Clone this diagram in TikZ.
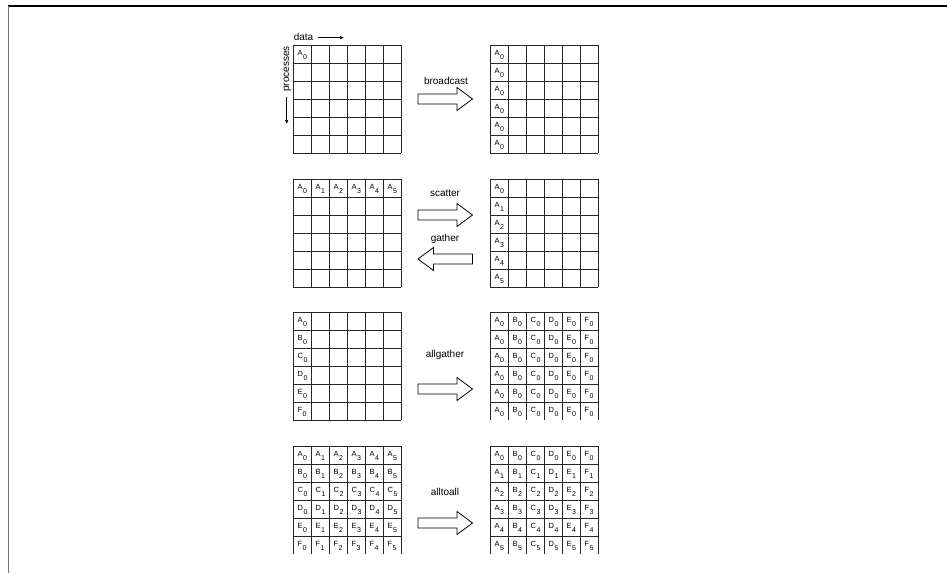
\documentclass[tikz,border=0pt]{standalone}
\usepackage{fontspec}
\setmainfont{Liberation Sans}
\usetikzlibrary{arrows.meta}
\tikzset{
  gridline/.style={line width=0.8pt, black!85},
  cellA/.style={anchor=base west, inner sep=0pt, font=\fontsize{7.5}{7.5}\selectfont},
  oplabel/.style={font=\fontsize{10}{10}\selectfont, inner sep=0pt},
  blockarrow/.style={draw=black, line width=0.8pt, fill=white, line join=miter},
  smallarrow/.style={line width=0.8pt, -{Latex[length=4pt,width=3.5pt]}},
}
% grid: x, y, last horizontal index (6 = closed, 5 = open bottom)
\newcommand{\mgrid}[3]{%
  \foreach \i in {0,...,#3} \draw[gridline] (#1,#2+18*\i) -- (#1+108,#2+18*\i);
  \foreach \j in {0,...,6} \draw[gridline] (#1+18*\j,#2) -- (#1+18*\j,#2+108);
}
% cell label: name, grid x, grid y, col, row, letter, subscript
\newcommand{\mcell}[7]{%
  \node[cellA] (#1) at (#2+18*#4+4.5, #3+18*#5+10.5) {#6\kern0.4pt\raisebox{-4pt}{\fontsize{7}{7}\selectfont #7}};
}
\newcommand{\rarrow}[2]{%
  \draw[blockarrow] (#1,#2-5) -- (#1+39,#2-5) -- (#1+39,#2-11.5) -- (#1+54.5,#2)
    -- (#1+39,#2+11.5) -- (#1+39,#2+5) -- (#1,#2+5) -- cycle;
}
\newcommand{\larrow}[2]{%
  \draw[blockarrow] (#1+54.5,#2-5) -- (#1+15.5,#2-5) -- (#1+15.5,#2-11.5) -- (#1,#2)
    -- (#1+15.5,#2+11.5) -- (#1+15.5,#2+5) -- (#1+54.5,#2+5) -- cycle;
}
\begin{document}
\begin{tikzpicture}[x=1pt,y=-1pt]
\useasboundingbox (0,0) rectangle (947,573);
% frame
\draw[line width=1.2pt, black] (8,6) -- (947,6);
\draw[line width=1.5pt, black!55] (8.5,6) -- (8.5,573);

% ---------- broadcast ----------
\node[oplabel] (datalbl) at (303.5,37) {data};
\coordinate (dataS) at (318,37.7);
\coordinate (dataE) at (344,37.7);
\draw[smallarrow] (dataS) -- (dataE);
\node[oplabel, rotate=90] (proclbl) at (287.5,69) {processes};
\coordinate (procS) at (286.7,97);
\coordinate (procE) at (286.7,124);
\draw[smallarrow] (procS) -- (procE);

\mgrid{293}{45}{6}
\mcell{b1}{293}{45}{0}{0}{A}{0}
\node[oplabel] (bcast) at (446,81) {broadcast};
\rarrow{418}{99}
\mgrid{490}{45}{6}
\foreach \r in {0,...,5} {\mcell{br\r}{490}{45}{0}{\r}{A}{0}}

% ---------- scatter / gather ----------
\mgrid{293}{179}{6}
\foreach \c in {0,...,5} {\mcell{sl\c}{293}{179}{\c}{0}{A}{\c}}
\node[oplabel] (scat) at (445,193) {scatter};
\rarrow{418}{215}
\node[oplabel] (gath) at (445,238.5) {gather};
\larrow{418}{259}
\mgrid{490}{179}{6}
\foreach \r in {0,...,5} {\mcell{sr\r}{490}{179}{0}{\r}{A}{\r}}

% ---------- allgather ----------
\mgrid{293}{312}{6}
\foreach \L [count=\r from 0] in {A,B,C,D,E,F} {\mcell{al\r}{293}{312}{0}{\r}{\L}{0}}
\node[oplabel] (allg) at (445,355) {allgather};
\rarrow{418}{389}
\mgrid{490}{312}{5}
\foreach \r in {0,...,5} {
  \foreach \L [count=\c from 0] in {A,B,C,D,E,F} {\mcell{ar\r\c}{490}{312}{\c}{\r}{\L}{0}}
}

% ---------- alltoall ----------
\mgrid{293}{446}{5}
\foreach \L [count=\r from 0] in {A,B,C,D,E,F} {
  \foreach \c in {0,...,5} {\mcell{tl\r\c}{293}{446}{\c}{\r}{\L}{\c}}
}
\node[oplabel] (a2a) at (445,492) {alltoall};
\rarrow{418}{523}
\mgrid{490}{446}{5}
\foreach \r in {0,...,5} {
  \foreach \L [count=\c from 0] in {A,B,C,D,E,F} {\mcell{tr\r\c}{490}{446}{\c}{\r}{\L}{\r}}
}
\end{tikzpicture}
\end{document}
